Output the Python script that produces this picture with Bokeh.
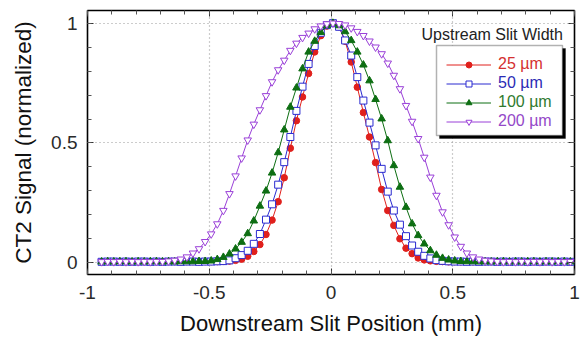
from bokeh.plotting import figure
from bokeh.models import (Range1d, LinearAxis, SingleIntervalTicker, CustomJSTickFormatter,
                          Legend, LegendItem, Label, BoxAnnotation)
from bokeh.embed import file_html
from bokeh.resources import INLINE

# ---------------- data ----------------
x_pos = [-0.942, -0.917, -0.892, -0.867, -0.842, -0.817, -0.792, -0.767, -0.742, -0.717,
         -0.692, -0.667, -0.642, -0.617, -0.592, -0.567, -0.542, -0.517, -0.492, -0.467,
         -0.442, -0.417, -0.392, -0.367, -0.342, -0.317, -0.292, -0.267, -0.242, -0.217,
         -0.192, -0.167, -0.142, -0.117, -0.092, -0.067, -0.042, -0.017, 0.008, 0.033,
         0.058, 0.083, 0.108, 0.133, 0.158, 0.183, 0.208, 0.233, 0.258, 0.283,
         0.308, 0.333, 0.358, 0.383, 0.408, 0.433, 0.458, 0.483, 0.508, 0.533,
         0.558, 0.583, 0.608, 0.633, 0.658, 0.683, 0.708, 0.733, 0.758, 0.783,
         0.808, 0.833, 0.858, 0.883, 0.908, 0.933, 0.958, 0.983]

sig_25 = [0.004, 0.005, 0.004, 0.005, 0.004, 0.005, 0.004, 0.005, 0.004, 0.005,
          0.004, 0.005, 0.005, 0.004, 0.005, 0.005, 0.004, 0.005, 0.005, 0.005,
          0.006, 0.007, 0.010, 0.015, 0.027, 0.047, 0.076, 0.118, 0.178, 0.255,
          0.355, 0.478, 0.593, 0.692, 0.790, 0.880, 0.948, 0.988, 1.000, 0.985,
          0.925, 0.838, 0.733, 0.627, 0.525, 0.418, 0.306, 0.218, 0.156, 0.100,
          0.061, 0.038, 0.020, 0.012, 0.008, 0.006, 0.005, 0.004, 0.005, 0.004,
          0.005, 0.004, 0.005, 0.004, 0.005, 0.004, 0.005, 0.004, 0.005, 0.004,
          0.005, 0.004, 0.005, 0.004, 0.005, 0.004, 0.005, 0.004]

sig_50 = [0.004, 0.005, 0.005, 0.004, 0.005, 0.004, 0.005, 0.005, 0.004, 0.005,
          0.004, 0.005, 0.005, 0.004, 0.005, 0.005, 0.004, 0.005, 0.005, 0.006,
          0.007, 0.010, 0.019, 0.032, 0.050, 0.079, 0.120, 0.180, 0.244, 0.326,
          0.420, 0.525, 0.634, 0.735, 0.830, 0.905, 0.960, 0.992, 1.000, 0.985,
          0.928, 0.865, 0.775, 0.677, 0.585, 0.490, 0.392, 0.297, 0.218, 0.159,
          0.111, 0.072, 0.046, 0.029, 0.018, 0.011, 0.008, 0.006, 0.005, 0.005,
          0.004, 0.005, 0.004, 0.005, 0.005, 0.004, 0.005, 0.004, 0.005, 0.005,
          0.004, 0.005, 0.004, 0.005, 0.005, 0.004, 0.005, 0.004]

sig_100 = [0.004, 0.005, 0.004, 0.005, 0.005, 0.004, 0.005, 0.004, 0.005, 0.005,
           0.004, 0.005, 0.004, 0.005, 0.005, 0.005, 0.006, 0.006, 0.008, 0.014,
           0.023, 0.037, 0.058, 0.086, 0.122, 0.175, 0.237, 0.300, 0.375, 0.460,
           0.555, 0.650, 0.730, 0.810, 0.880, 0.925, 0.962, 0.990, 1.000, 0.990,
           0.965, 0.928, 0.880, 0.826, 0.760, 0.682, 0.601, 0.510, 0.406, 0.316,
           0.232, 0.163, 0.114, 0.079, 0.051, 0.032, 0.019, 0.012, 0.008, 0.006,
           0.005, 0.005, 0.004, 0.005, 0.004, 0.005, 0.005, 0.004, 0.005, 0.004,
           0.005, 0.005, 0.004, 0.005, 0.004, 0.005, 0.005, 0.004]

sig_200 = [0.004, 0.005, 0.004, 0.005, 0.004, 0.005, 0.004, 0.005, 0.004, 0.005,
           0.005, 0.007, 0.010, 0.015, 0.024, 0.040, 0.058, 0.088, 0.120, 0.162,
           0.218, 0.288, 0.362, 0.437, 0.512, 0.578, 0.638, 0.697, 0.755, 0.805,
           0.845, 0.886, 0.916, 0.940, 0.958, 0.976, 0.988, 0.997, 1.000, 0.998,
           0.992, 0.980, 0.965, 0.948, 0.925, 0.900, 0.872, 0.833, 0.782, 0.726,
           0.656, 0.590, 0.518, 0.440, 0.357, 0.281, 0.212, 0.158, 0.107, 0.068,
           0.040, 0.024, 0.015, 0.010, 0.007, 0.005, 0.004, 0.005, 0.004, 0.005,
           0.004, 0.005, 0.004, 0.005, 0.004, 0.005, 0.004, 0.005]

series_labels = ["25 \u00b5m", "50 \u00b5m", "100 \u00b5m", "200 \u00b5m"]
legend_title = "Upstream Slit Width"
x_title = "Downstream Slit Position (mm)"
y_title = "CT2 Signal (normalized)"

# ---------------- figure ----------------
FONT = "Liberation Sans"
p = figure(width=580, height=341, x_range=Range1d(-1, 1), y_range=Range1d(-0.049, 1.053),
           output_backend="svg", toolbar_location=None,
           min_border_left=87, min_border_right=6, min_border_top=10, min_border_bottom=67,
           x_axis_label=x_title, y_axis_label=y_title)
p.outline_line_color = "black"
p.outline_line_width = 1.6
p.background_fill_color = "white"

fmt = CustomJSTickFormatter(code="return String(Math.round(tick*10)/10);")
blank = CustomJSTickFormatter(code="return '';")

def style_axis(ax, formatter, labels=True):
    ax.ticker = SingleIntervalTicker(interval=0.5, num_minor_ticks=5)
    ax.formatter = formatter
    ax.axis_line_color = None
    ax.major_tick_in = 6
    ax.major_tick_out = 0
    ax.minor_tick_in = 4
    ax.minor_tick_out = 0
    ax.major_tick_line_color = "#333333"
    ax.minor_tick_line_color = "#555555"
    ax.major_label_text_font = FONT
    ax.major_label_text_font_size = "19px"
    ax.major_label_text_color = "#2a2a2a"
    ax.axis_label_text_font = FONT
    ax.axis_label_text_font_style = "normal"
    ax.axis_label_text_color = "#111111"
    if not labels:
        ax.major_label_standoff = 0
        ax.major_label_text_font_size = "0px"

style_axis(p.xaxis[0], fmt)
style_axis(p.yaxis[0], fmt)
p.xaxis.major_label_standoff = 11
p.yaxis.major_label_standoff = 10
p.xaxis.axis_label_text_font_size = "22px"
p.yaxis.axis_label_text_font_size = "22.5px"
p.xaxis.axis_label_standoff = 9
p.yaxis.axis_label_standoff = 12

top_ax = LinearAxis()
style_axis(top_ax, blank, labels=False)
p.add_layout(top_ax, "above")
right_ax = LinearAxis()
style_axis(right_ax, blank, labels=False)
p.add_layout(right_ax, "right")

for g in (p.xgrid[0], p.ygrid[0]):
    g.ticker = SingleIntervalTicker(interval=0.5, num_minor_ticks=5)
    g.grid_line_color = "#999999"
    g.grid_line_dash = "1 3"
    g.grid_line_width = 1.2

# ---------------- series ----------------
colors = ["#e0201c", "#2a2ad0", "#0d6e12", "#9a40d8"]
text_colors = ["#d43030", "#2b2bb5", "#2f7a2f", "#9448c8"]

# red (25)
l1 = p.line(x_pos, sig_25, line_color=colors[0], line_width=1)
m1 = p.scatter(x_pos, sig_25, marker="circle", size=6.5, line_color=colors[0],
               fill_color=colors[0], line_width=1)
# blue (50)
l2 = p.line(x_pos, sig_50, line_color=colors[1], line_width=1)
m2 = p.scatter(x_pos, sig_50, marker="square", size=7, line_color=colors[1],
               fill_color="white", line_width=1)
# green (100)
l3 = p.line(x_pos, sig_100, line_color=colors[2], line_width=1)
m3 = p.scatter(x_pos, sig_100, marker="triangle", size=7.5, line_color=colors[2],
               fill_color=colors[2], line_width=1)
# purple (200)
l4 = p.line(x_pos, sig_200, line_color=colors[3], line_width=1)
m4 = p.scatter(x_pos, sig_200, marker="inverted_triangle", size=7.5, line_color=colors[3],
               fill_color="white", line_width=1)

# ---------------- legend ----------------
shadow = BoxAnnotation(left=352, right=478, top=226, bottom=136,
                       left_units="screen", right_units="screen",
                       top_units="screen", bottom_units="screen",
                       fill_color="black", fill_alpha=1.0, line_color="black")
box = BoxAnnotation(left=349, right=475, top=229, bottom=139,
                    left_units="screen", right_units="screen",
                    top_units="screen", bottom_units="screen",
                    fill_color="white", fill_alpha=1.0, line_color="black", line_width=1.5)
p.add_layout(shadow)
p.add_layout(box)

entries = [(series_labels[0], [l1, m1], text_colors[0], 200.5),
           (series_labels[1], [l2, m2], text_colors[1], 181.5),
           (series_labels[2], [l3, m3], text_colors[2], 162.5),
           (series_labels[3], [l4, m4], text_colors[3], 143.5)]
for lab, rr, tc, yb in entries:
    lg = Legend(items=[LegendItem(label=lab, renderers=rr)], location=(359, yb),
                border_line_color=None, background_fill_alpha=0, padding=0, margin=0,
                spacing=0, glyph_width=45, glyph_height=15, label_height=19,
                label_standoff=7, label_text_font=FONT, label_text_font_size="16px",
                label_text_color=tc)
    p.add_layout(lg)

p.add_layout(Label(x=334, y=240.5, x_units="screen", y_units="screen", text=legend_title,
                   text_font=FONT, text_font_size="16px", text_color="#222222",
                   text_baseline="alphabetic"))

open("out.html", "w").write(file_html(p, INLINE))
